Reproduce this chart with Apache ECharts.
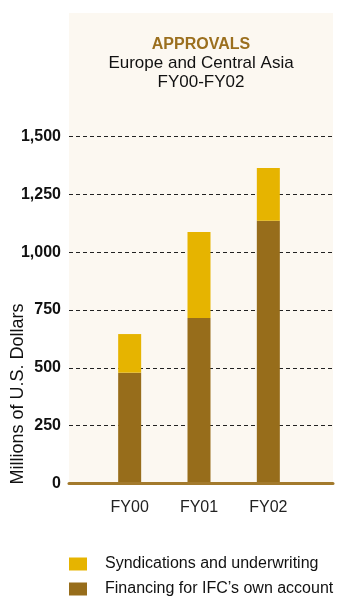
<!DOCTYPE html>
<html>
<head>
<meta charset="utf-8">
<script src="https://cdn.jsdelivr.net/npm/echarts@6/dist/echarts.min.js"></script>
<style>
  html, body { margin: 0; padding: 0; background: #ffffff; }
  #chart { width: 338px; height: 598px; }
</style>
</head>
<body>
<div id="chart"></div>
<script>
// Approvals, Europe and Central Asia, FY00-FY02 (millions of U.S. dollars)
var categories = ['FY00', 'FY01', 'FY02'];
var ownAccount = [479, 715, 1136];
var syndications = [167, 372, 228];
var yTicks = [0, 250, 500, 750, 1000, 1250, 1500];

var FONT = '"Liberation Sans", Arial, Helvetica, sans-serif';
var BROWN = '#976d1b';
var GOLD = '#e6b400';
var NAME_OWN = 'Financing for IFC\u2019s own account';
var NAME_SYN = 'Syndications and underwriting';

var chart = echarts.init(document.getElementById('chart'), null, { renderer: 'canvas' });

var yMin = yTicks[0];
var yMax = yTicks[yTicks.length - 1];
var yStep = yTicks[1] - yTicks[0];

function legendBlock(name, top) {
  return {
    orient: 'vertical',
    left: 64,
    top: top,
    itemWidth: 18,
    itemHeight: 13,
    icon: 'rect',
    data: [name],
    textStyle: { fontFamily: FONT, fontSize: 16, color: '#111111', padding: [0, 0, 0, 13] }
  };
}

var option = {
  animation: false,
  backgroundColor: '#ffffff',
  graphic: [
    {
      type: 'rect', z: -10, silent: true,
      shape: { x: 69, y: 13, width: 264, height: 470 },
      style: { fill: '#fcf8f1' }
    },
    {
      type: 'text', x: 201, y: 45,
      style: { text: 'APPROVALS', fill: '#9b6f1e', font: 'bold 16px ' + FONT,
               textAlign: 'center', textVerticalAlign: 'middle' }
    },
    {
      type: 'text', x: 201, y: 63,
      style: { text: 'Europe and Central Asia', fill: '#111111', font: '17px ' + FONT,
               textAlign: 'center', textVerticalAlign: 'middle' }
    },
    {
      type: 'text', x: 201, y: 82,
      style: { text: 'FY00-FY02', fill: '#111111', font: '17px ' + FONT,
               textAlign: 'center', textVerticalAlign: 'middle' }
    },
    {
      type: 'text', x: 18, y: 394, rotation: Math.PI / 2,
      style: { text: 'Millions of U.S. Dollars', fill: '#111111', font: '18px ' + FONT,
               textAlign: 'center', textVerticalAlign: 'middle' }
    }
  ],
  legend: [legendBlock(NAME_SYN, 551), legendBlock(NAME_OWN, 576)],
  grid: [
    // frame grid: value labels, dashed gridlines and the base line
    { left: 69, right: 5, top: 136.5, bottom: 114.5 },
    // bar grid: narrower band so the columns sit where they belong
    { left: 95, right: 35, top: 136.5, bottom: 114.5 }
  ],
  xAxis: [
    {
      gridIndex: 0, type: 'category', data: categories,
      axisLine: { show: true, lineStyle: { color: '#a37a2c', width: 3 } },
      axisTick: { show: false }, axisLabel: { show: false }, splitLine: { show: false },
      z: 5
    },
    {
      gridIndex: 1, type: 'category', data: categories,
      axisLine: { show: false }, axisTick: { show: false },
      axisLabel: { show: true, margin: 16, fontFamily: FONT, fontSize: 16, color: '#222222' }
    }
  ],
  yAxis: [
    {
      gridIndex: 0, type: 'value', min: yMin, max: yMax, interval: yStep,
      axisLine: { show: false }, axisTick: { show: false },
      axisLabel: {
        margin: 8, fontFamily: FONT, fontSize: 16, fontWeight: 'bold', color: '#111111',
        formatter: function (v) { return v.toLocaleString('en-US'); }
      },
      splitLine: { show: true, lineStyle: { color: '#222222', width: 1, type: [4, 3] } }
    },
    {
      gridIndex: 1, type: 'value', min: yMin, max: yMax, interval: yStep,
      axisLine: { show: false }, axisTick: { show: false }, axisLabel: { show: false },
      splitLine: { show: false }
    }
  ],
  series: [
    {
      name: NAME_OWN, type: 'bar', stack: 'total',
      xAxisIndex: 1, yAxisIndex: 1, barWidth: 23,
      itemStyle: { color: BROWN }, data: ownAccount
    },
    {
      name: NAME_SYN, type: 'bar', stack: 'total',
      xAxisIndex: 1, yAxisIndex: 1, barWidth: 23,
      itemStyle: { color: GOLD }, data: syndications
    }
  ]
};

chart.setOption(option);
</script>
</body>
</html>
